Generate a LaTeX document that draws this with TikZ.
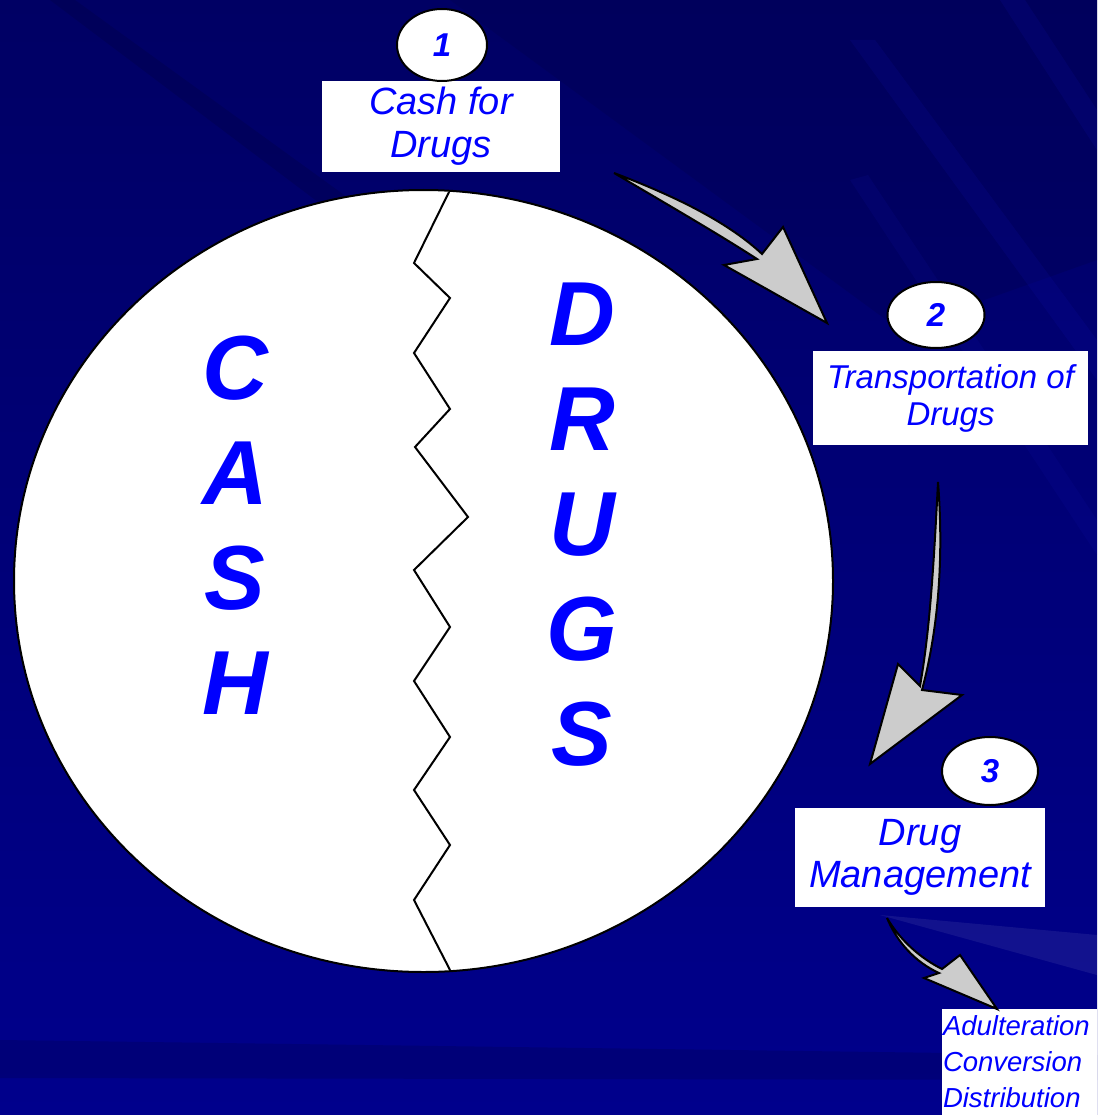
\documentclass[tikz,border=0pt]{standalone}
\usepackage{fontspec}
\setmainfont{Liberation Sans}
\usetikzlibrary{shapes.geometric}
\definecolor{bgtop}{RGB}{0,0,100}
\definecolor{bgbot}{RGB}{0,0,140}
\definecolor{streakdark}{RGB}{0,0,70}
\definecolor{streaklight}{RGB}{20,20,180}
\definecolor{txtblue}{RGB}{0,0,255}
\definecolor{arrowgrey}{RGB}{204,204,204}
\tikzset{
  labelbox/.style={fill=white, inner sep=0pt, align=center, text=txtblue},
  numoval/.style={ellipse, draw=black, line width=2pt, fill=white, inner sep=0pt,
     text=txtblue, font=\fontsize{33}{35}\selectfont\bfseries\itshape},
  blockarrow/.style={fill=arrowgrey, draw=black, line width=2pt, line join=miter},
  bigletters/.style={text=txtblue, align=center, inner sep=0pt,
     font=\fontsize{91}{105}\selectfont\bfseries\itshape},
}
\begin{document}
\begin{tikzpicture}[x=1pt, y=-1pt]
\useasboundingbox (0,0) rectangle (1097,1115);
% background
\shade[top color=bgtop, bottom color=bgbot] (0,0) rectangle (1097,1115);
\fill[streakdark, opacity=0.35] (50,0) -- (75,0) -- (420,250) -- (395,260) -- cycle;
\fill[streakdark, opacity=0.25] (450,0) -- (1097,0) -- (1097,260) -- (900,330) -- cycle;
\fill[streaklight, opacity=0.15] (850,40) -- (875,40) -- (1097,340) -- (1097,380) -- cycle;
\fill[streaklight, opacity=0.15] (1000,0) -- (1025,0) -- (1097,110) -- (1097,150) -- cycle;
\fill[streaklight, opacity=0.12] (850,180) -- (868,175) -- (1097,520) -- (1097,555) -- cycle;
\fill[streakdark, opacity=0.25] (0,1040) -- (1097,1055) -- (1097,1080) -- (0,1078) -- cycle;
\fill[white, opacity=0.07] (880,915) -- (1097,935) -- (1097,975) -- cycle;
% big circle
\node[ellipse, draw=black, line width=2pt, fill=white, minimum width=819pt,
      minimum height=782pt, inner sep=0pt] (bigc) at (423.5,581) {};
% zigzag crack
\draw[black, line width=2pt, line join=miter]
  (449,192) -- (414,263) -- (450,298) -- (414,353) -- (450,409) -- (415,447)
  -- (468,517) -- (414,570) -- (450,627) -- (414,681) -- (450,737)
  -- (414,790) -- (450,845) -- (414,900) -- (450,970);
% big letters
\node[bigletters] (cash) at (235,525) {C\\A\\S\\H};
\node[bigletters] (drugs) at (582,525) {D\\R\\U\\G\\S};
% label boxes
\node[labelbox, minimum width=238pt, minimum height=91pt,
      font=\fontsize{38}{43}\selectfont\itshape] (box1) at (441,126.5) {Cash for\\Drugs};
\node[numoval, minimum width=90pt, minimum height=72pt] (num1) at (442,45) {1};
\node[labelbox, minimum width=275pt, minimum height=94pt,
      font=\fontsize{33}{37}\selectfont\itshape] (box2) at (950.5,398) {Transportation of\\Drugs};
\node[numoval, minimum width=97pt, minimum height=66pt] (num2) at (936,315) {2};
\node[labelbox, minimum width=250pt, minimum height=99pt,
      font=\fontsize{38}{42}\selectfont\itshape] (box3) at (920,857.5) {Drug\\Management};
\node[numoval, minimum width=96pt, minimum height=68pt] (num3) at (990,771) {3};
\node[labelbox, align=left, text width=153pt, minimum height=106pt, inner xsep=1pt,
      font=\fontsize{27.5}{36}\selectfont\itshape] (box4) at (1019.5,1062)
      {Adulteration\\Conversion\\Distribution};
% block arrows
\draw[blockarrow] (614,173) .. controls (680,198) and (730,224) .. (762,254)
  -- (783,227) -- (827,323) -- (724,265) -- (757,259)
  .. controls (720,235) and (670,206) .. cycle;
\draw[blockarrow] (938,482) .. controls (944,560) and (938,630) .. (922,690)
  -- (962,695) -- (870,764) -- (898,664) -- (920,686)
  .. controls (930,630) and (934,560) .. cycle;
\draw[blockarrow] (887,918) .. controls (900,940) and (920,958) .. (942,969)
  -- (960,955) -- (997,1009) -- (924,978) -- (939,973)
  .. controls (915,962) and (897,942) .. cycle;
\end{tikzpicture}
\end{document}
